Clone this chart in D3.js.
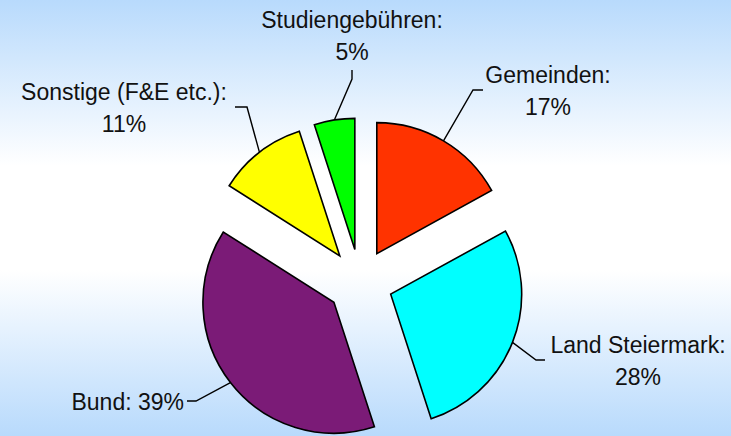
<!DOCTYPE html>
<html>
<head>
<meta charset="utf-8">
<script src="https://cdn.jsdelivr.net/npm/d3@7"></script>
<style>
  html, body { margin: 0; padding: 0; overflow: hidden; }
  svg { display: block; }
  text { font-family: "Liberation Sans", Arial, sans-serif; font-size: 23px; fill: #111; }
</style>
</head>
<body>
<svg id="chart" width="731" height="436"></svg>
<script>
// ---- data ----
const categories = ["Gemeinden", "Land Steiermark", "Bund", "Sonstige (F&E etc.)", "Studiengebühren"];
const values = [17, 28, 39, 11, 5];
const colors = ["#ff3300", "#00ffff", "#7b1b77", "#ffff00", "#00ff00"];

// ---- layout (label text positions / leader elbows) ----
const labelLayout = [
  { elbow: [473, 90], end: [483, 90], lines: ["Gemeinden:", "17%"], x: 548, y: 83, anchor: "middle" },
  { elbow: [536, 360], end: [545, 360], lines: ["Land Steiermark:", "28%"], x: 638, y: 353, anchor: "middle" },
  { elbow: [196, 401], end: [187, 401], lines: ["Bund: 39%"], x: 184, y: 410, anchor: "end" },
  { elbow: [247, 107], end: [235, 107], lines: ["Sonstige (F&E etc.):", "11%"], x: 124, y: 100, anchor: "middle" },
  { elbow: [352, 79], end: [352, 70], lines: ["Studiengebühren:", "5%"], x: 352, y: 28, anchor: "middle" }
];

const W = 731, H = 436;
const cx = 360, cy = 282, R = 131, explode = 33, lineH = 31.5;

const svg = d3.select("#chart");
const defs = svg.append("defs");
const grad = defs.append("linearGradient").attr("id", "bg").attr("x1", 0).attr("y1", 0).attr("x2", 0).attr("y2", 1);
[[0, "#b8dafc"], [0.38, "#ffffff"], [0.62, "#ffffff"], [1, "#b8dafc"]].forEach(([o, c]) =>
  grad.append("stop").attr("offset", o).attr("stop-color", c));
svg.append("rect").attr("width", W).attr("height", H).attr("fill", "url(#bg)");

const pie = d3.pie().sort(null).value(d => d)(values);
const arc = d3.arc().innerRadius(0).outerRadius(R);

const g = svg.append("g").attr("transform", `translate(${cx},${cy})`);

pie.forEach((d, i) => {
  const a = (d.startAngle + d.endAngle) / 2;
  const ox = Math.sin(a) * explode, oy = -Math.cos(a) * explode;
  g.append("path")
    .attr("d", arc(d))
    .attr("transform", `translate(${ox},${oy})`)
    .attr("fill", colors[i])
    .attr("stroke", "#000")
    .attr("stroke-width", 1.6)
    .attr("stroke-linejoin", "miter");

  // leader line from arc midpoint
  const mx = cx + ox + Math.sin(a) * R, my = cy + oy - Math.cos(a) * R;
  const L = labelLayout[i];
  svg.append("polyline")
    .attr("points", [[mx, my], L.elbow, L.end].map(p => p.join(",")).join(" "))
    .attr("fill", "none").attr("stroke", "#000").attr("stroke-width", 1.4);

  const t = svg.append("text").attr("text-anchor", L.anchor);
  L.lines.forEach((s, k) => {
    t.append("tspan").attr("x", L.x).attr("y", L.y + k * lineH).text(s);
  });
});
</script>
</body>
</html>
